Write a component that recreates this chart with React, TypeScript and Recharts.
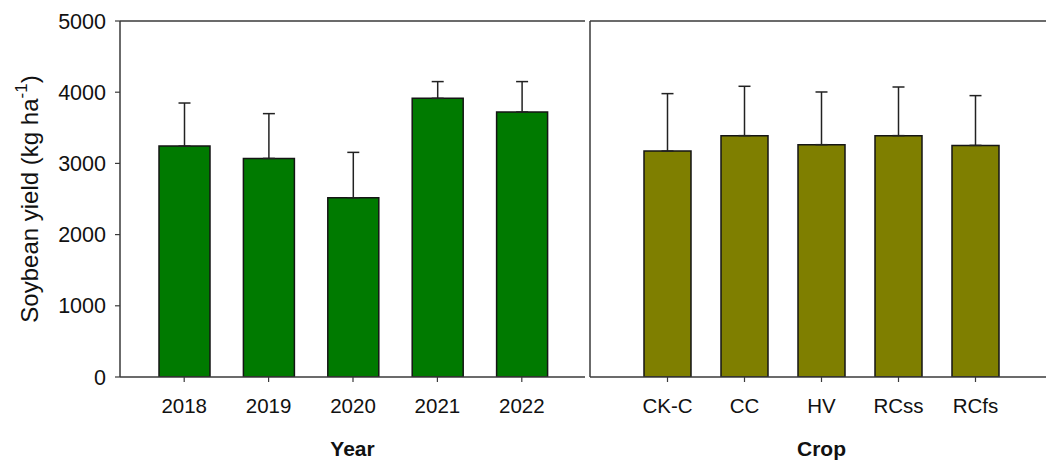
import React from 'react';
import {
  BarChart,
  Bar,
  XAxis,
  YAxis,
  ErrorBar,
  ReferenceLine,
} from 'recharts';

// soybean yield by year (mean and upper standard error)
const years = ['2018', '2019', '2020', '2021', '2022'];
const yearYield = [3243, 3070, 2517, 3914, 3722];
const yearSE = [605, 629, 638, 235, 427];

// soybean yield by cover crop treatment
const crops = ['CK-C', 'CC', 'HV', 'RCss', 'RCfs'];
const cropYield = [3173, 3390, 3263, 3390, 3253];
const cropSE = [807, 693, 740, 683, 699];

const yTicks = [0, 1000, 2000, 3000, 4000, 5000];

const FONT = '"Liberation Sans", Arial, sans-serif';
const AXIS = '#3a3a3a';
const xTickStyle = { fill: '#111', fontSize: 20.5, fontFamily: FONT };
const yTickStyle = { fill: '#111', fontSize: 21.5, fontFamily: FONT };
const titleStyle = { fill: '#111', fontSize: 21, fontWeight: 700, fontFamily: FONT };

const yearData = years.map((name, i) => ({ name, yield: yearYield[i], err: [0, yearSE[i]] }));
const cropData = crops.map((name, i) => ({ name, yield: cropYield[i], err: [0, cropSE[i]] }));

const YieldLabel = ({ viewBox }: any) => {
  const cy = viewBox.y + viewBox.height / 2;
  return (
    <text
      transform={`translate(38, ${cy}) rotate(-90)`}
      textAnchor="middle"
      fontSize={24}
      fontFamily={FONT}
      fill="#111"
    >
      Soybean yield (kg ha
      <tspan dy={-11} fontSize={17}>-1</tspan>
      <tspan dy={11}>)</tspan>
    </text>
  );
};

export default function App() {
  return (
    <div
      style={{
        position: 'absolute',
        left: 0,
        top: 0,
        width: 1046,
        height: 460,
        overflow: 'hidden',
        background: '#fff',
      }}
    >
      <div style={{ position: 'absolute', left: 0, top: 0 }}>
        <BarChart
          width={586}
          height={460}
          data={yearData}
          margin={{ top: 21, right: 1, bottom: 0, left: 0 }}
        >
          <XAxis
            dataKey="name"
            height={83}
            padding={{ left: 22, right: 21 }}
            axisLine={{ stroke: AXIS, strokeWidth: 1.5 }}
            tickLine={{ stroke: AXIS, strokeWidth: 1.2 }}
            tickSize={5}
            tickMargin={16}
            tick={xTickStyle}
            label={{ value: 'Year', position: 'insideBottom', offset: 4, style: titleStyle }}
          />
          <YAxis
            width={120}
            domain={[0, 5000]}
            ticks={yTicks}
            allowDataOverflow
            axisLine={{ stroke: AXIS, strokeWidth: 1.5 }}
            tickLine={{ stroke: AXIS, strokeWidth: 1.2 }}
            tickSize={5}
            tickMargin={9}
            tick={yTickStyle}
            label={<YieldLabel />}
          />
          <YAxis
            yAxisId="frame"
            orientation="right"
            width={0}
            domain={[0, 5000]}
            tick={false}
            tickLine={false}
            axisLine={{ stroke: AXIS, strokeWidth: 1.5 }}
          />
          <ReferenceLine y={5000} stroke={AXIS} strokeWidth={1.5} />
          <Bar
            dataKey="yield"
            fill="#007a00"
            stroke="#151515"
            strokeWidth={1.5}
            barSize={51}
            isAnimationActive={false}
          >
            <ErrorBar dataKey="err" width={6} stroke="#222" strokeWidth={1.5} />
          </Bar>
        </BarChart>
      </div>

      <div style={{ position: 'absolute', left: 470, top: 0 }}>
        <BarChart
          width={583}
          height={460}
          data={cropData}
          margin={{ top: 21, right: 0, bottom: 0, left: 0 }}
        >
          <XAxis
            dataKey="name"
            height={83}
            padding={{ left: 39, right: 39 }}
            axisLine={{ stroke: AXIS, strokeWidth: 1.5 }}
            tickLine={{ stroke: AXIS, strokeWidth: 1.2 }}
            tickSize={5}
            tickMargin={16}
            tick={xTickStyle}
            label={{ value: 'Crop', position: 'insideBottom', offset: 4, style: titleStyle }}
          />
          <YAxis
            width={120}
            domain={[0, 5000]}
            ticks={yTicks}
            allowDataOverflow
            axisLine={{ stroke: AXIS, strokeWidth: 1.5 }}
            tickLine={{ stroke: '#888', strokeWidth: 1 }}
            tickSize={5}
            tick={false}
          />
          <ReferenceLine y={5000} stroke={AXIS} strokeWidth={1.5} />
          <Bar
            dataKey="yield"
            fill="#7f7f00"
            stroke="#151515"
            strokeWidth={1.5}
            barSize={47}
            isAnimationActive={false}
          >
            <ErrorBar dataKey="err" width={6} stroke="#222" strokeWidth={1.5} />
          </Bar>
        </BarChart>
      </div>
    </div>
  );
}
